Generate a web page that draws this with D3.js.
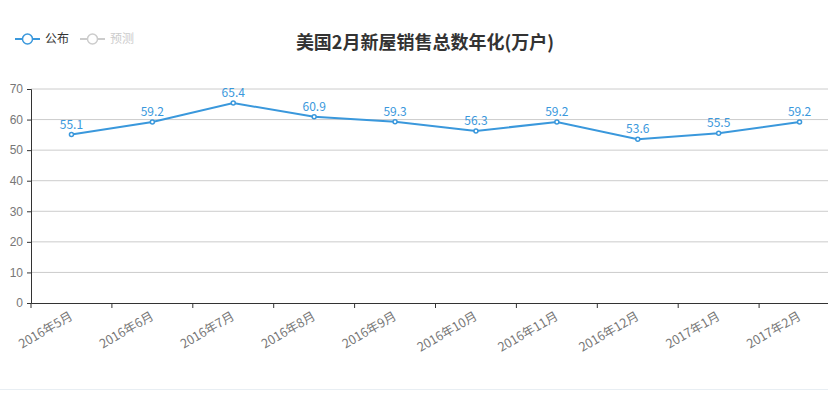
<!DOCTYPE html>
<html>
<head>
<meta charset="utf-8">
<script src="https://cdn.jsdelivr.net/npm/d3@7"></script>
<style>
  body { margin: 0; background: #fff; }
  svg { font-family: "Microsoft YaHei", "Noto Sans CJK SC", sans-serif; }
</style>
</head>
<body>
<svg id="chart" width="828" height="396"></svg>
<script>
const months = ['2016年5月', '2016年6月', '2016年7月', '2016年8月', '2016年9月',
  '2016年10月', '2016年11月', '2016年12月', '2017年1月', '2017年2月'];
const published = [55.1, 59.2, 65.4, 60.9, 59.3, 56.3, 59.2, 53.6, 55.5, 59.2];
const yTicks = [0, 10, 20, 30, 40, 50, 60, 70];
const legendNames = ['公布', '预测'];

const svg = d3.select('#chart');
const blue = '#3a98dc';

const x = d3.scaleBand().domain(months).range([31, 840]);
const y = d3.scaleLinear().domain([0, 70]).range([303, 89]);

// grid lines
svg.append('g')
  .selectAll('line')
  .data(yTicks.slice(1))
  .join('line')
    .attr('x1', 31).attr('x2', 828)
    .attr('y1', d => y(d)).attr('y2', d => y(d))
    .attr('stroke', '#ccc');

// y axis
const yAxis = svg.append('g')
  .attr('transform', 'translate(31,0)')
  .call(d3.axisLeft(y).tickValues(yTicks).tickSize(4).tickPadding(4));
yAxis.select('.domain').attr('stroke', '#333');
yAxis.selectAll('.tick line').attr('stroke', '#333');
yAxis.selectAll('text').attr('fill', '#777').style('font-size', '12px');

// x axis
const xAxis = svg.append('g')
  .attr('transform', 'translate(0,303)')
  .call(d3.axisBottom(x).tickSize(0).tickFormat(''));
xAxis.select('.domain').attr('stroke', '#333');
svg.append('g')
  .selectAll('line')
  .data(months)
  .join('line')
    .attr('x1', d => x(d)).attr('x2', d => x(d))
    .attr('y1', 303).attr('y2', 308)
    .attr('stroke', '#333');
svg.append('g')
  .selectAll('text')
  .data(months)
  .join('text')
    .attr('transform', d => `translate(${x(d) + x.bandwidth() / 2},${315}) rotate(-30)`)
    .attr('text-anchor', 'end')
    .attr('dy', '0.35em')
    .attr('fill', '#777')
    .style('font-size', '12.5px')
    .text(d => d);

// line
const line = d3.line()
  .x((d, i) => x(months[i]) + x.bandwidth() / 2)
  .y(d => y(d));
svg.append('path')
  .datum(published)
  .attr('d', line)
  .attr('fill', 'none')
  .attr('stroke', blue)
  .attr('stroke-width', 2);

svg.append('g')
  .selectAll('circle')
  .data(published)
  .join('circle')
    .attr('cx', (d, i) => x(months[i]) + x.bandwidth() / 2)
    .attr('cy', d => y(d))
    .attr('r', 2)
    .attr('fill', '#fff')
    .attr('stroke', blue)
    .attr('stroke-width', 1.5);

svg.append('g')
  .selectAll('text')
  .data(published)
  .join('text')
    .attr('x', (d, i) => x(months[i]) + x.bandwidth() / 2)
    .attr('y', d => y(d) - 6)
    .attr('text-anchor', 'middle')
    .attr('fill', blue)
    .style('font-size', '12px')
    .text(d => d.toFixed(1));

// title
svg.append('text')
  .attr('x', 425).attr('y', 49)
  .attr('text-anchor', 'middle')
  .attr('fill', '#333')
  .style('font-size', '18px')
  .style('font-weight', 'bold')
  .text('美国2月新屋销售总数年化(万户)');

// legend
const legendColors = [blue, '#ccc'];
const legend = svg.append('g')
  .selectAll('g')
  .data(legendNames)
  .join('g')
    .attr('transform', (d, i) => `translate(${15 + i * 65},39)`);
legend.append('line')
  .attr('x1', 0).attr('x2', 25)
  .attr('stroke', (d, i) => legendColors[i])
  .attr('stroke-width', 2);
legend.append('circle')
  .attr('cx', 12.5).attr('r', 5)
  .attr('fill', '#fff')
  .attr('stroke', (d, i) => legendColors[i])
  .attr('stroke-width', 1.5);
legend.append('text')
  .attr('x', 30).attr('dy', '0.35em')
  .attr('fill', (d, i) => i === 0 ? '#333' : '#ccc')
  .style('font-size', '12px')
  .text(d => d);

// bottom separator
svg.append('line')
  .attr('x1', 0).attr('x2', 828)
  .attr('y1', 389.5).attr('y2', 389.5)
  .attr('stroke', '#e8eef3');
</script>
</body>
</html>
